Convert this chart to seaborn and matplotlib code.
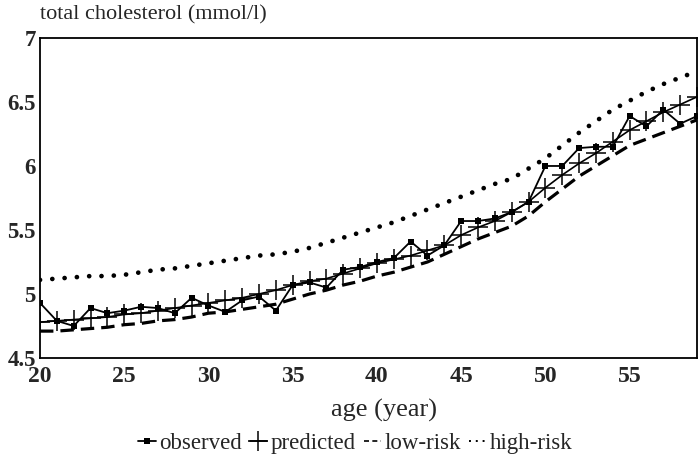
import numpy as np
import pandas as pd
import matplotlib
matplotlib.use("Agg")
import matplotlib.pyplot as plt
import seaborn as sns
from matplotlib.lines import Line2D

age = list(range(20, 60))
observed = [4.93, 4.79, 4.75, 4.89, 4.85, 4.87, 4.90, 4.89, 4.85, 4.97,
            4.91, 4.86, 4.95, 4.98, 4.87, 5.07, 5.09, 5.05, 5.19, 5.21,
            5.25, 5.28, 5.41, 5.30, 5.38, 5.57, 5.57, 5.59, 5.64, 5.72,
            6.00, 6.00, 6.14, 6.15, 6.15, 6.39, 6.31, 6.44, 6.33, 6.39]
predicted = [4.78, 4.79, 4.80, 4.81, 4.82, 4.84, 4.85, 4.87, 4.89, 4.91,
             4.93, 4.95, 4.97, 5.00, 5.03, 5.07, 5.10, 5.12, 5.16, 5.20,
             5.24, 5.27, 5.30, 5.34, 5.38, 5.46, 5.52, 5.57, 5.64, 5.72,
             5.83, 5.93, 6.02, 6.10, 6.19, 6.28, 6.35, 6.42, 6.48, 6.54]
low_risk = [4.71, 4.71, 4.72, 4.73, 4.74, 4.76, 4.77, 4.79, 4.80, 4.82,
            4.85, 4.86, 4.88, 4.90, 4.92, 4.96, 5.00, 5.03, 5.07, 5.10,
            5.14, 5.17, 5.21, 5.25, 5.31, 5.37, 5.43, 5.48, 5.53, 5.61,
            5.72, 5.82, 5.92, 6.00, 6.08, 6.16, 6.21, 6.26, 6.31, 6.36]
high_risk = [5.11, 5.12, 5.13, 5.14, 5.14, 5.15, 5.17, 5.19, 5.20, 5.22,
             5.24, 5.26, 5.28, 5.30, 5.31, 5.33, 5.36, 5.40, 5.44, 5.48,
             5.52, 5.56, 5.61, 5.66, 5.71, 5.76, 5.81, 5.86, 5.90, 5.98,
             6.06, 6.16, 6.26, 6.35, 6.44, 6.51, 6.58, 6.64, 6.69, 6.74]
xticks = [20, 25, 30, 35, 40, 45, 50, 55]
yticks = [4.5, 5, 5.5, 6, 6.5, 7]
yticklabels = ["4.5", "5", "5.5", "6", "6.5", "7"]

df = pd.DataFrame({"age": age, "observed": observed, "predicted": predicted,
                   "low": low_risk, "high": high_risk})

sns.set_style("white")
plt.rcParams["font.family"] = ["Liberation Serif", "DejaVu Serif"]

fig = plt.figure(figsize=(6.98, 4.63), dpi=100)
ax = fig.add_axes([0.0573, 0.2268, 0.9413, 0.6912])

sns.lineplot(data=df, x="age", y="high", ax=ax, color="black", legend=False)
hl = ax.lines[-1]
hl.set_linewidth(3.4)
hl.set_linestyle((0, (0.01, 2.6)))
hl.set_dash_capstyle("round")

sns.lineplot(data=df, x="age", y="low", ax=ax, color="black", legend=False)
ll = ax.lines[-1]
ll.set_linewidth(2.3)
ll.set_linestyle((0, (4.2, 2.2)))

sns.lineplot(data=df, x="age", y="predicted", ax=ax, color="black", linewidth=1.2,
             marker="+", markersize=14, markeredgewidth=1.1,
             markeredgecolor="black", legend=False)
sns.lineplot(data=df, x="age", y="observed", ax=ax, color="black", linewidth=1.3,
             marker="s", markersize=3.8, markeredgewidth=0,
             markeredgecolor="black", legend=False)

ax.set_xlim(20, 59)
ax.set_ylim(4.5, 7)
ax.set_xticks(xticks)
ax.set_xticks(age, minor=True)
ax.set_yticks(yticks)
ax.set_yticklabels(yticklabels)
ax.tick_params(axis="both", which="both", direction="in", color="black")
ax.tick_params(axis="x", which="both", length=6, width=1.1, pad=5.5)
ax.tick_params(axis="y", which="major", length=9, width=1.1, pad=3)
ax.tick_params(axis="x", labelsize=17)
ax.tick_params(axis="y", labelsize=16.5)
for lab in ax.get_xticklabels() + ax.get_yticklabels():
    lab.set_fontweight("bold")
for s in ax.spines.values():
    s.set_color("black")
    s.set_linewidth(1.3)

ax.set_xlabel("")
ax.set_ylabel("")
fig.text(0.55, 1 - 410 / 463, "age (year)", fontsize=19, ha="center", va="center")
fig.text(0.057, 1 - 15 / 463, "total cholesterol (mmol/l)", fontsize=16,
         ha="left", va="center")

handles = [
    Line2D([], [], color="black", lw=1.3, marker="s", markersize=3.8, markeredgewidth=0),
    Line2D([], [], color="black", lw=1.2, marker="+", markersize=15, markeredgewidth=1.1),
    Line2D([], [], color="black", lw=1.2, linestyle=(0, (3, 2))),
    Line2D([], [], color="black", lw=1.4, linestyle=(0, (1, 2.5))),
]
fig.legend(handles, ["observed", "predicted", "low-risk", "high-risk"],
           loc="center", bbox_to_anchor=(0.509, 1 - 443 / 463), ncol=4, frameon=False,
           fontsize=16.5, handlelength=0.75, handletextpad=0.15, columnspacing=0.35)

fig.savefig("out.png", dpi=100)
